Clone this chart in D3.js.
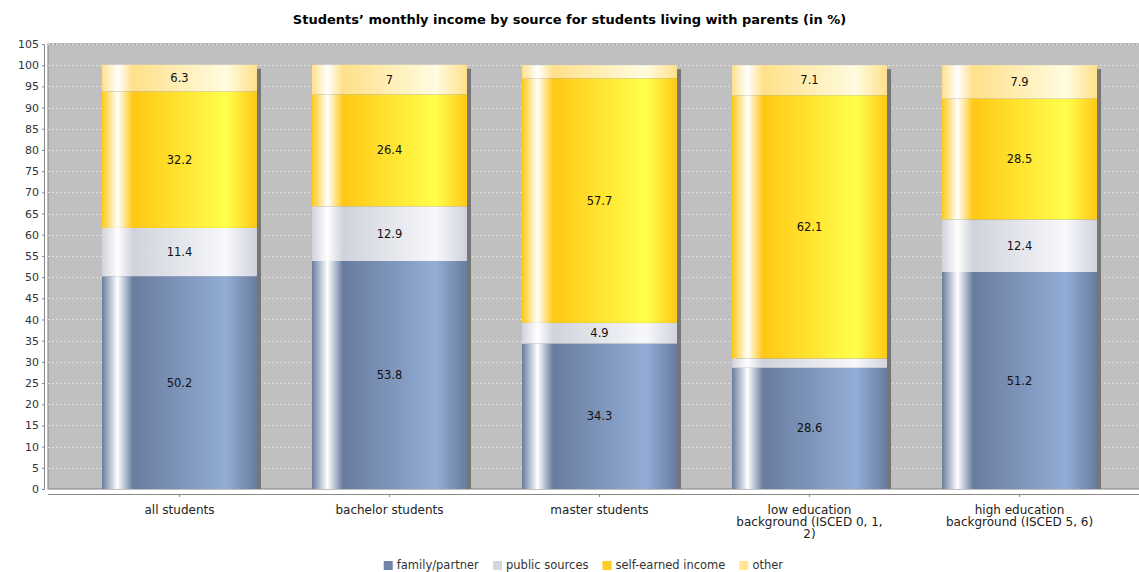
<!DOCTYPE html>
<html><head><meta charset="utf-8">
<script src="https://cdn.jsdelivr.net/npm/d3@7"></script>
<style>body{margin:0;background:#fff} svg{display:block;font-family:"DejaVu Sans",sans-serif}</style>
</head><body><svg id="c" width="1139" height="572"></svg>
<script>
const title = "Students’ monthly income by source for students living with parents (in %)";
const categories = ["all students", "bachelor students", "master students",
  "low education background (ISCED 0, 1, 2)", "high education background (ISCED 5, 6)"];
const seriesNames = ["family/partner", "public sources", "self-earned income", "other"];
const familyPartner = [50.2, 53.8, 34.3, 28.6, 51.2];
const publicSources = [11.4, 12.9, 4.9, 2.2, 12.4];
const selfEarned = [32.2, 26.4, 57.7, 62.1, 28.5];
const other = [6.3, 7, 3.1, 7.1, 7.9];
const yTicks = [0,5,10,15,20,25,30,35,40,45,50,55,60,65,70,75,80,85,90,95,100,105];

const seriesValues = [familyPartner, publicSources, selfEarned, other];
const baseColors = ["#6f84a8", "#d4d7df", "#ffcc22", "#ffe594"];
const darkColors = ["#687c9e", "#d0d3dc", "#ffc814", "#ffe08a"];
const lightColors = ["#93add6", "#f7f8fb", "#ffff4c", "#fffce0"];

const W = 1139, H = 572;
const plot = {left: 48, right: 1151, top: 44, bottom: 489};
const svg = d3.select("#c");
const defs = svg.append("defs");
defs.append("clipPath").attr("id","pc").append("rect")
  .attr("x",plot.left).attr("y",plot.top).attr("width",plot.right-plot.left).attr("height",plot.bottom-plot.top);

seriesNames.forEach((s,i)=>{
  const g = defs.append("linearGradient").attr("id","g"+i).attr("x1",0).attr("x2",1).attr("y1",0).attr("y2",0);
  [[0,darkColors[i]],[0.10,"#ffffff"],[0.20,darkColors[i]],[0.80,lightColors[i]],[1,darkColors[i]]]
    .forEach(([o,c])=>g.append("stop").attr("offset",o).attr("stop-color",c));
});

const x = d3.scaleBand().domain(categories).range([plot.left, plot.right]).paddingInner(0.262).paddingOuter(0.257);
const y = d3.scaleLinear().domain([0,105]).range([plot.bottom, plot.top]);

// title
svg.append("text").attr("x", W/2).attr("y", 24).attr("text-anchor","middle")
  .attr("font-size", 13).attr("font-weight","bold").attr("fill","#000").text(title);

// plot background
svg.append("rect").attr("x",plot.left).attr("y",plot.top).attr("width",plot.right-plot.left).attr("height",plot.bottom-plot.top)
  .attr("fill","#c0c0c0").attr("stroke","#808080").attr("stroke-width",1);

// gridlines
svg.append("g").attr("clip-path","url(#pc)").selectAll("line").data(yTicks).join("line")
  .attr("x1",plot.left).attr("x2",plot.right).attr("y1",d=>Math.round(y(d))+0.5).attr("y2",d=>Math.round(y(d))+0.5)
  .attr("stroke","#dedede").attr("stroke-width",1).attr("stroke-dasharray","2,2");

// stacked data
const stackData = categories.map((c,ci)=>{
  const o = {cat:c}; seriesNames.forEach((s,si)=>o[s]=seriesValues[si][ci]); return o;
});
const stacked = d3.stack().keys(seriesNames)(stackData);

const barsG = svg.append("g").attr("clip-path","url(#pc)");
// shadows
barsG.selectAll("rect.sh").data(stackData).join("rect").attr("class","sh")
  .attr("x", d=>x(d.cat)+4).attr("y", d=>y(d3.sum(seriesNames,s=>d[s]))+4)
  .attr("width", x.bandwidth()).attr("height", d=>plot.bottom - y(d3.sum(seriesNames,s=>d[s])))
  .attr("fill","#767676");

stacked.forEach((layer,si)=>{
  barsG.selectAll("rect.s"+si).data(layer).join("rect").attr("class","s"+si)
    .attr("x", d=>x(d.data.cat)).attr("y", d=>y(d[1]))
    .attr("width", x.bandwidth()).attr("height", d=>y(d[0])-y(d[1]))
    .attr("fill","url(#g"+si+")");
});
stacked.forEach((layer,si)=>{
  barsG.selectAll("text.l"+si).data(layer.filter(d=>y(d[0])-y(d[1])>15)).join("text").attr("class","l"+si)
    .attr("x", d=>x(d.data.cat)+x.bandwidth()/2).attr("y", d=>(y(d[0])+y(d[1]))/2)
    .attr("dy","0.35em").attr("text-anchor","middle").attr("font-size",11.5).attr("fill","#111")
    .text(d=>d3.format("")(+(d[1]-d[0]).toFixed(1)));
});

// y axis
const yAxis = svg.append("g").attr("transform",`translate(44,0)`)
  .call(d3.axisLeft(y).tickValues(yTicks).tickSize(2).tickPadding(3).tickFormat(d3.format("d")));
yAxis.selectAll("text").attr("font-size",11).attr("fill","#333").attr("font-family","DejaVu Sans");
yAxis.selectAll("line,path").attr("stroke","#888");

// x axis
const xAxis = svg.append("g").attr("transform",`translate(0,494)`)
  .call(d3.axisBottom(x).tickSize(3).tickSizeOuter(0).tickFormat(""));
xAxis.select("path").attr("d",`M${plot.left},0.5H${W}`).attr("stroke","#888");
xAxis.selectAll("line").attr("stroke","#888");

// wrapped category labels
const maxW = 156;
const lab = svg.append("g").attr("font-size",12).attr("fill","#222");
categories.forEach(c=>{
  const t = lab.append("text").attr("x", x(c)+x.bandwidth()/2).attr("y", 514).attr("text-anchor","middle");
  const words = c.split(" ");
  let line = [], lines = [];
  const probe = lab.append("text").attr("visibility","hidden");
  words.forEach(w=>{
    const test = line.concat([w]).join(" ");
    probe.text(test);
    if (probe.node().getComputedTextLength() > maxW && line.length){ lines.push(line.join(" ")); line=[w]; }
    else line.push(w);
  });
  lines.push(line.join(" "));
  probe.remove();
  lines.forEach((l,i)=>t.append("tspan").attr("x", x(c)+x.bandwidth()/2).attr("dy", i?12:0).text(l));
});

// legend
const leg = svg.append("g").attr("font-size",11.5);
let lx = 0;
const gap = 14;
const items = leg.selectAll("g").data(seriesNames).join("g");
items.append("rect").attr("width",9).attr("height",9).attr("y",-8).attr("fill",(d,i)=>baseColors[i]);
items.append("text").attr("x",13).attr("fill","#333").text(d=>d);
items.each(function(){ d3.select(this).attr("transform",`translate(${lx},0)`); lx += this.getBBox().width + gap; });
leg.attr("transform",`translate(${(W - (lx-gap))/2 + 14},569)`);
</script></body></html>
